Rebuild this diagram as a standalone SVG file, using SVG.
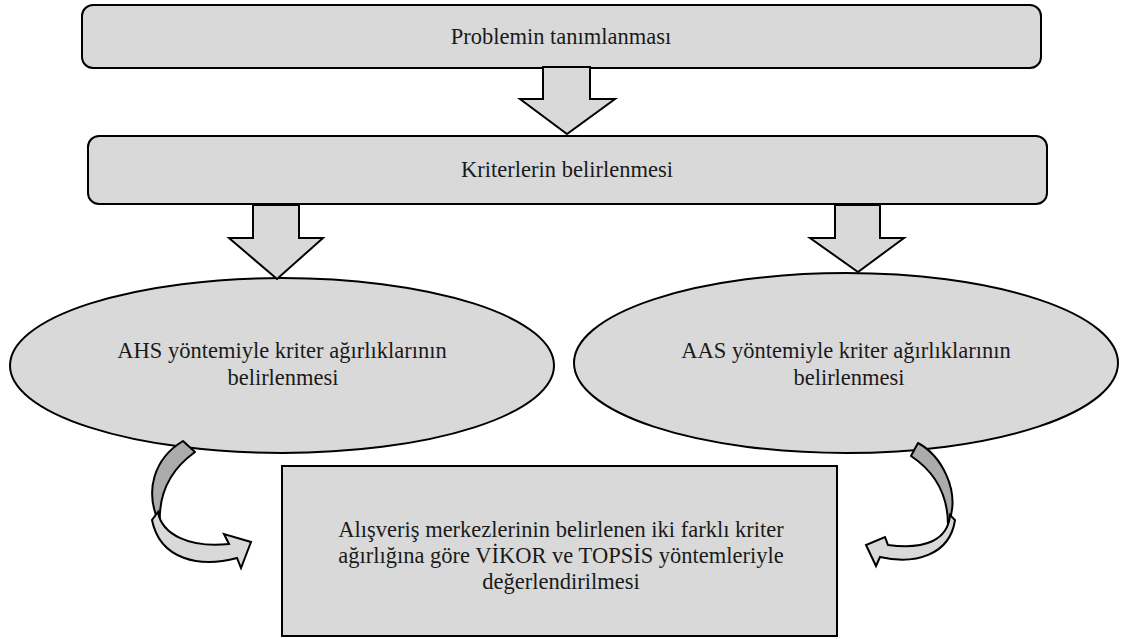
<svg xmlns="http://www.w3.org/2000/svg" width="1122" height="639" viewBox="0 0 1122 639">
<style>
.box{fill:#d9d9d9;stroke:#000;stroke-width:2}
.arr{fill:#d9d9d9;stroke:#000;stroke-width:2;stroke-linejoin:miter}
.back{fill:#ababab;stroke:#000;stroke-width:2;stroke-linejoin:round}
.front{fill:#d9d9d9;stroke:#000;stroke-width:2;stroke-linejoin:miter}
text{font-family:"Liberation Serif","Times New Roman",serif;font-size:22.5px;fill:#1a1a1a;text-anchor:middle}
</style>
<rect width="1122" height="639" fill="#fff"/>
<g id="n1">
<rect class="box" x="82" y="5" width="959" height="63" rx="11"/>
<text x="561" y="44">Problemin tanımlanması</text>
</g>
<g id="n2">
<rect class="box" x="88" y="136" width="959" height="68" rx="11"/>
<text x="567" y="177">Kriterlerin belirlenmesi</text>
</g>
<g id="n3">
<ellipse class="box" cx="282" cy="365.5" rx="272" ry="87.5"/>
<text x="282" y="358">AHS yöntemiyle kriter ağırlıklarının</text>
<text x="283" y="385">belirlenmesi</text>
</g>
<g id="n4">
<ellipse class="box" cx="846" cy="363" rx="272" ry="90"/>
<text x="846" y="358">AAS yöntemiyle kriter ağırlıklarının</text>
<text x="849" y="385">belirlenmesi</text>
</g>
<g id="n5">
<rect class="box" x="282" y="466" width="555" height="170"/>
<text x="561" y="537">Alışveriş merkezlerinin belirlenen iki farklı kriter</text>
<text x="561" y="563">ağırlığına göre VİKOR ve TOPSİS yöntemleriyle</text>
<text x="561" y="589">değerlendirilmesi</text>
</g>
<g id="connectors">
<path class="arr" d="M543 67 L590 67 L590 99 L615 99 L567 134 L520 99 L543 99 Z"/>
<path class="arr" d="M253 205 L299 205 L299 238 L323 238 L277 279 L229 238 L253 238 Z"/>
<path class="arr" d="M835 205 L880 205 L880 238 L904 238 L858 272 L810 238 L835 238 Z"/>
<path class="back" d="M183 441 C155 458 143 490 160 525 C158 495 170 470 195 452 Z"/>
<path class="front" d="M158 512 C162 535 190 548 229 544 L224 534 L251 542 L241 568 L237 558 C200 568 160 560 152 520 Z"/>
<path class="back" d="M918 443 C940 455 962 490 948 525 C948 495 935 472 911 456 Z"/>
<path class="front" d="M950 515 C948 540 925 550 888 545 L885 537 L866 545 L876 566 L880 557 C915 565 950 555 955 520 Z"/>
</g>
</svg>
